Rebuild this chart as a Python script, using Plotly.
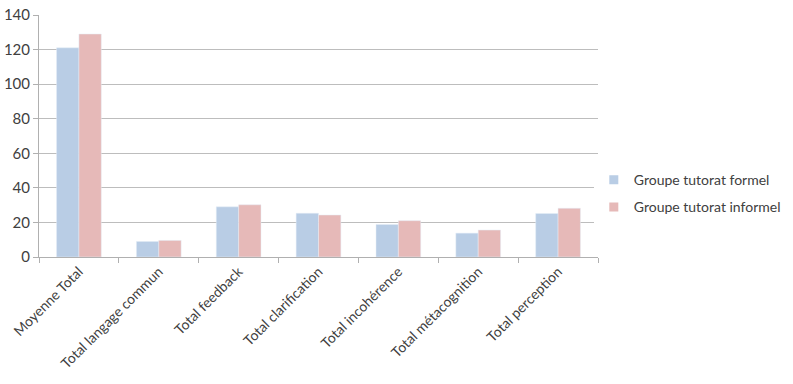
import plotly.graph_objects as go

categories = ["Moyenne Total", "Total langage commun", "Total feedback", "Total clarification",
              "Total incohérence", "Total métacognition", "Total perception"]
formel = [121, 9, 29, 25.3, 18.8, 13.8, 25.2]
informel = [129, 9.6, 30.2, 24.3, 21, 15.6, 28.2]
series_names = ["Groupe tutorat formel", "Groupe tutorat informel"]
colors = ["#b9cde5", "#e6b9b8"]
y_ticks = [0, 20, 40, 60, 80, 100, 120, 140]

fig = go.Figure()
for vals, name, col in zip([formel, informel], series_names, colors):
    fig.add_trace(go.Bar(x=categories, y=vals, name=name, marker_color=col, showlegend=False))
for name, col in zip(series_names, colors):
    fig.add_trace(go.Scatter(x=[None], y=[None], mode="markers", name=name, legendgroup=name,
                             marker=dict(symbol="square", size=9, color=col)))

fig.update_layout(
    width=793, height=384,
    margin=dict(l=39, r=195, t=15, b=127, autoexpand=False),
    plot_bgcolor="white", paper_bgcolor="white",
    barmode="group", bargap=0.44, bargroupgap=0,
    font=dict(family="Lato, Open Sans, sans-serif", size=14, color="#404040"),
    legend=dict(x=0.9925, y=0.262, xanchor="left", yanchor="middle",
                font=dict(size=14), tracegroupgap=6, itemwidth=30),
    showlegend=True,
)
fig.update_xaxes(
    tickangle=-45, showgrid=False, showline=True, linecolor="#b0b0b0",
    ticks="outside", tickson="boundaries", ticklen=5, tickcolor="#b0b0b0",
    tickfont=dict(size=14),
)
fig.update_yaxes(
    range=[0, 140], tickvals=y_ticks, showgrid=True, gridcolor="#bdbdbd",
    showline=True, linecolor="#b0b0b0", ticks="outside", ticklen=5, tickcolor="#b0b0b0",
    tickfont=dict(size=15), zeroline=False,
)
fig.write_html("out.html")
